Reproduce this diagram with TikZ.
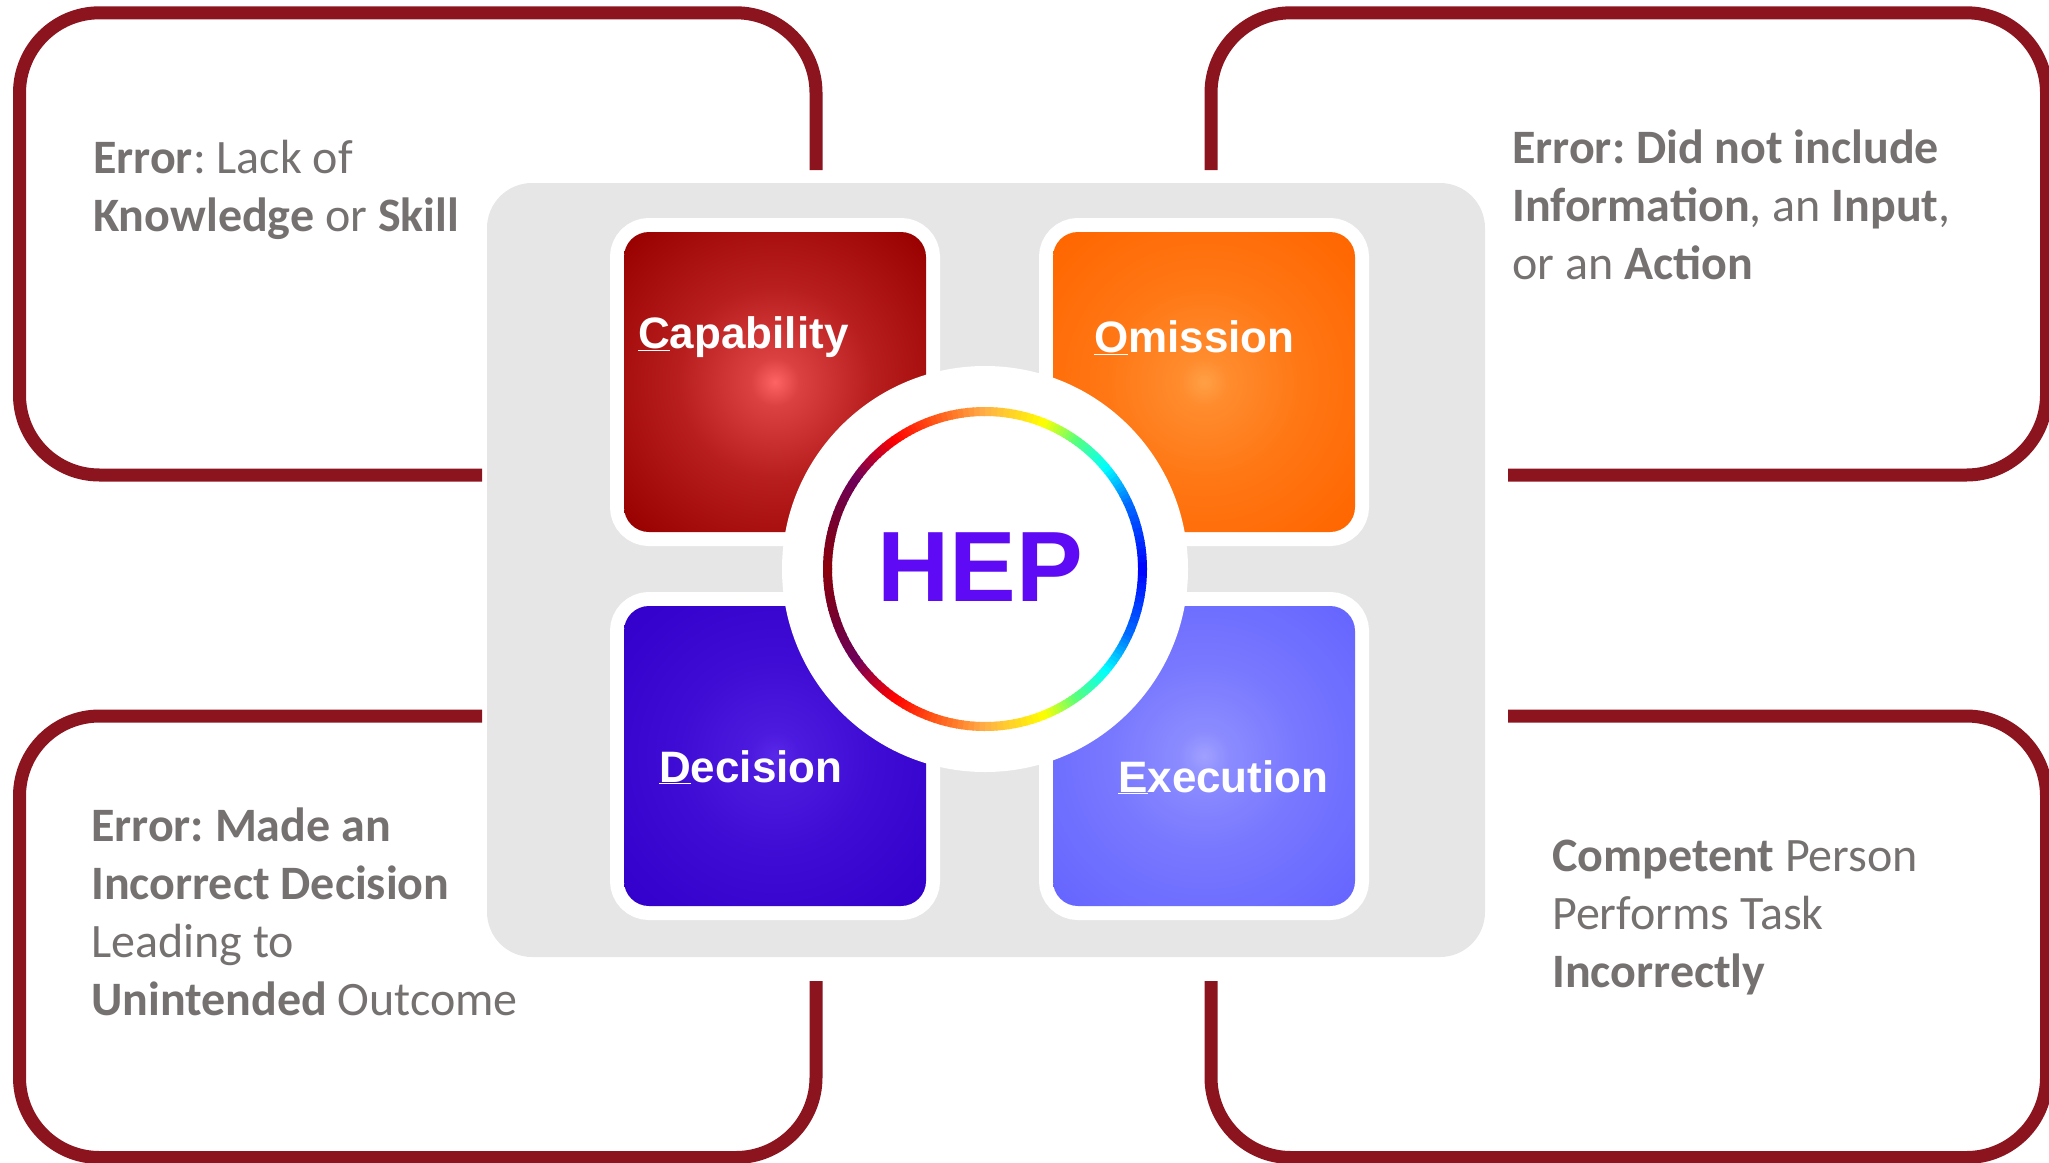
\documentclass[tikz,border=0pt]{standalone}
\usepackage{fontspec}
\setmainfont{Carlito}
\newfontfamily\hepfont{Liberation Sans}
\usetikzlibrary{positioning}
\frenchspacing

\definecolor{framered}{RGB}{139,20,30}
\definecolor{notegrey}{RGB}{118,113,113}
\definecolor{panelgrey}{RGB}{230,230,230}
\definecolor{hepviolet}{RGB}{95,10,245}
\definecolor{rb0}{RGB}{0,0,255}
\definecolor{rb1}{RGB}{0,110,255}
\definecolor{rb2}{RGB}{0,255,255}
\definecolor{rb3}{RGB}{90,255,120}
\definecolor{rb4}{RGB}{255,255,0}
\definecolor{rb5}{RGB}{255,175,70}
\definecolor{rb6}{RGB}{255,80,20}
\definecolor{rb7}{RGB}{255,0,0}
\definecolor{rb8}{RGB}{110,0,90}
\definecolor{rb9}{RGB}{120,0,40}
\definecolor{rb10}{RGB}{140,0,10}

\colorlet{tilemid}{white}
\colorlet{tileedge}{black}
\pgfdeclareradialshading[tilemid,tileedge]{tileglow}{\pgfpoint{0bp}{0bp}}{%
  color(0bp)=(tilemid); color(4bp)=(tilemid!65!tileedge);
  color(16bp)=(tilemid!30!tileedge); color(34bp)=(tileedge); color(50bp)=(tileedge)}

\tikzset{
  frame/.style={draw=framered, line width=13pt, rounded corners=80pt},
  note/.style={anchor=base west, align=left, inner sep=0pt, text=notegrey,
    font=\fontsize{48}{58}\selectfont},
  tile/.style 2 args={rectangle, minimum width=302pt, minimum height=300pt,
    rounded corners=25pt, /utils/exec={\colorlet{tilemid}{#1}\colorlet{tileedge}{#2}},
    shading=tileglow, preaction={draw=white, line width=28pt}},
  tilelabel/.style={anchor=base west, inner sep=0pt, text=white,
    font=\hepfont\bfseries\fontsize{44}{44}\selectfont},
  ring/.style={line width=9pt}
}

\begin{document}
\begin{tikzpicture}[x=1pt,y=-1pt,on grid]
\useasboundingbox (0,0) rectangle (2049,1162);

\draw[frame] (482,475) -- (19.5,475) -- (19.5,12.8) -- (816,12.8) -- (816,170);
\draw[frame] (1211,170) -- (1211,12.8) -- (2046.5,12.8) -- (2046.5,475) -- (1508,475);
\draw[frame] (482,716) -- (19.5,716) -- (19.5,1157.5) -- (816,1157.5) -- (816,981);
\draw[frame] (1508,716) -- (2046.5,716) -- (2046.5,1157.5) -- (1211,1157.5) -- (1211,981);

\node[fill=panelgrey, rounded corners=45pt, minimum width=998pt, minimum height=774pt]
  (panel) at (986,570) {};

\node[tile={rgb,255:red,255;green,100;blue,100}{rgb,255:red,153;green,0;blue,0}]
  (capability) at (775,382) {};
\node[tile={rgb,255:red,255;green,160;blue,70}{rgb,255:red,255;green,102;blue,0},
  right=429pt of capability] (omission) {};
\node[tile={rgb,255:red,90;green,40;blue,232}{rgb,255:red,51;green,0;blue,204},
  below=374pt of capability] (decision) {};
\node[tile={rgb,255:red,160;green,160;blue,255}{rgb,255:red,102;green,102;blue,255},
  below=374pt of omission] (execution) {};

\node[circle, fill=white, inner sep=0pt, minimum size=406pt] (hubdisk) at (985,569) {};
\foreach \a/\b/\ca/\cb in {0/25/rb0/rb1, 25/40/rb1/rb2, 40/55/rb2/rb3, 55/68/rb3/rb4,
    68/90/rb4/rb5, 90/110/rb5/rb6, 110/125/rb6/rb7, 125/145/rb7/rb8,
    145/165/rb8/rb9, 165/180/rb9/rb10}
  \foreach \t in {0,...,9}{
    \pgfmathsetmacro\s{\a+(\b-\a)*\t/10}
    \pgfmathsetmacro\e{\a+(\b-\a)*(\t+1)/10+0.4}
    \pgfmathtruncatemacro\p{\t*10+5}
    \draw[ring, draw={\cb!\p!\ca}] (hubdisk.center) ++(\s:157.5)
      arc[start angle=\s, end angle=\e, radius=157.5];
    \draw[ring, draw={\cb!\p!\ca}] (hubdisk.center) ++(-\s:157.5)
      arc[start angle=-\s, end angle=-\e, radius=157.5];
  }
\node[inner sep=0pt, text=hepviolet, font=\hepfont\bfseries\fontsize{100}{100}\selectfont]
  (hep) at (980,567) {HEP};

\node[tilelabel] (caplabel) at (638,348) {\underline{C}apability};
\node[tilelabel] (omilabel) at (1094,352) {\underline{O}mission};
\node[tilelabel] (declabel) at (659,782) {\underline{D}ecision};
\node[tilelabel] (exelabel) at (1118,792) {\underline{E}xecution};

\node[note] (capnote) at (93,231)
  {\textbf{Error}: Lack of\\\textbf{Knowledge} or \textbf{Skill}};
\node[note] (ominote) at (1512,279)
  {\textbf{Error: Did not include}\\\textbf{Information}, an \textbf{Input},\\or an \textbf{Action}};
\node[note] (decnote) at (91,1015)
  {\textbf{Error: Made an}\\\textbf{Incorrect Decision}\\Leading to\\\textbf{Unintended} Outcome};
\node[note] (exenote) at (1552,987)
  {\textbf{Competent} Person\\Performs Task\\\textbf{Incorrectly}};
\end{tikzpicture}
\end{document}
